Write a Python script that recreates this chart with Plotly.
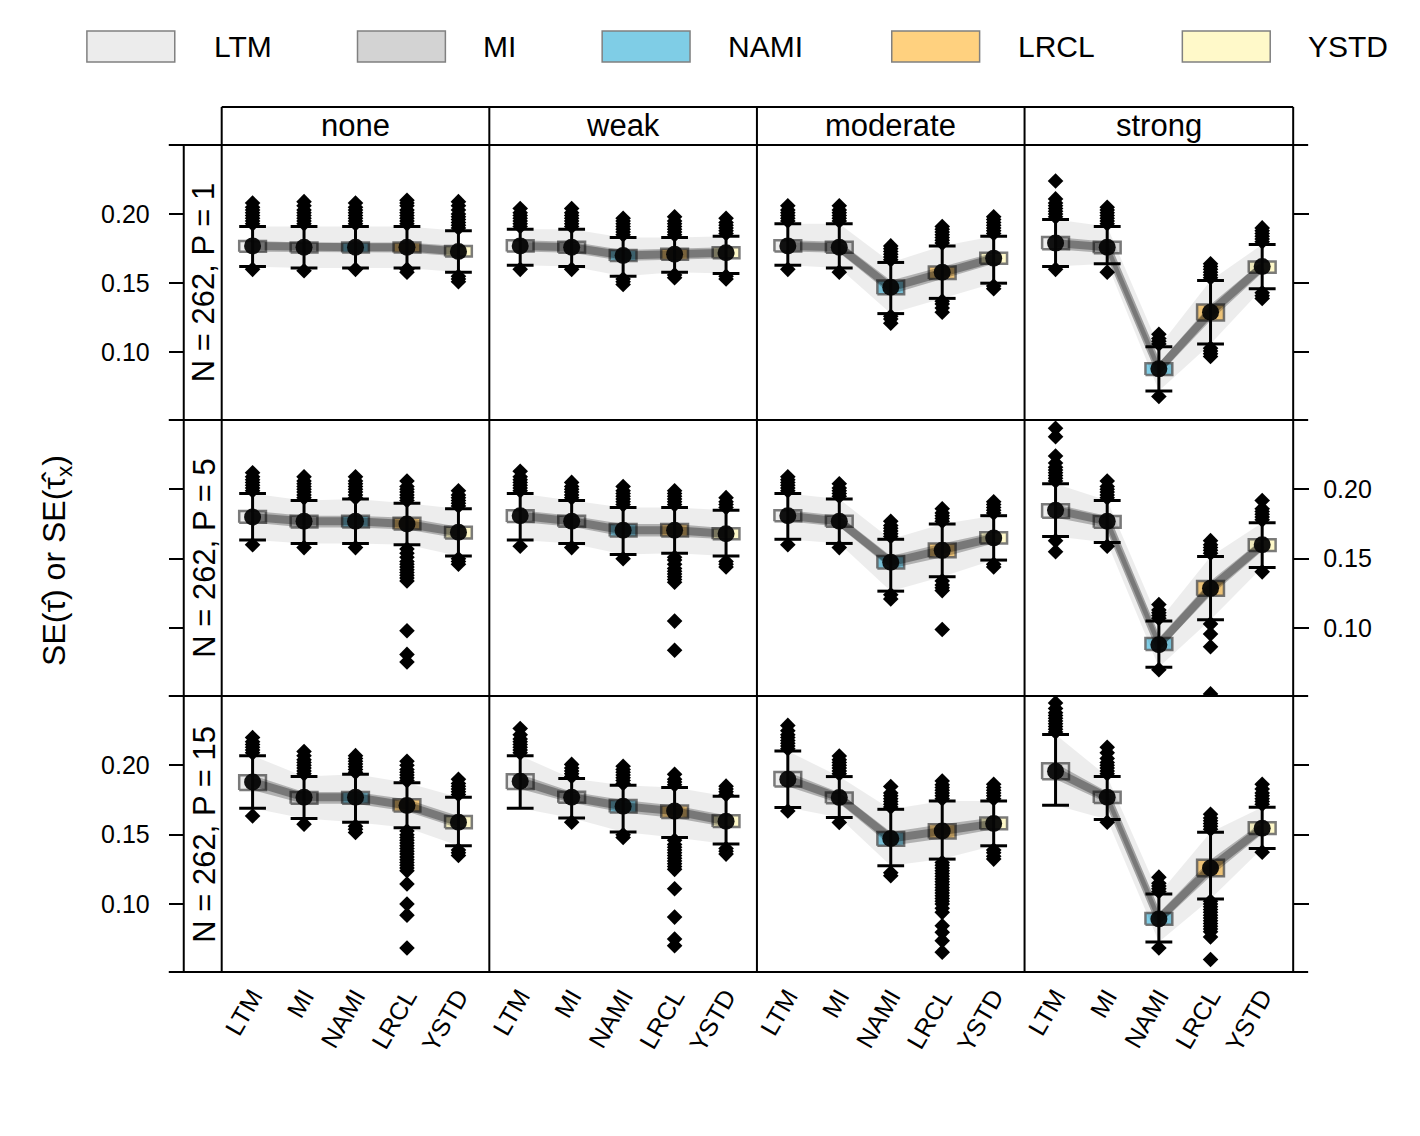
import plotly.graph_objects as go

# ---------------- data ----------------
METHODS = ["LTM", "MI", "NAMI", "LRCL", "YSTD"]
STRENGTHS = ["none", "weak", "moderate", "strong"]
ROW_LABELS = ["N = 262, P = 1", "N = 262, P = 5", "N = 262, P = 15"]
Y_TICKS = [0.10, 0.15, 0.20]
Y_TICK_TEXT = ["0.10", "0.15", "0.20"]
Y_TITLE = "SE(τ\u0302) or SE(τ\u0302<sub>x</sub>)"

# [row][col][method]
CENTER = [
    [[0.177, 0.176, 0.176, 0.176, 0.173], [0.177, 0.176, 0.170, 0.171, 0.172],
     [0.177, 0.176, 0.147, 0.158, 0.168], [0.179, 0.176, 0.088, 0.129, 0.162]],
    [[0.180, 0.177, 0.177, 0.175, 0.169], [0.181, 0.177, 0.1705, 0.1705, 0.168],
     [0.181, 0.177, 0.1475, 0.156, 0.165], [0.185, 0.177, 0.088, 0.1286, 0.160]],
    [[0.188, 0.177, 0.177, 0.171, 0.159], [0.1885, 0.177, 0.1705, 0.167, 0.1597],
     [0.190, 0.1768, 0.1473, 0.1527, 0.158], [0.1957, 0.177, 0.0892, 0.126, 0.1547]],
]
Q1 = [
    [[0.1727, 0.1722, 0.1722, 0.1722, 0.1693], [0.173, 0.172, 0.166, 0.167, 0.168],
     [0.173, 0.172, 0.142, 0.153, 0.164], [0.1746, 0.1717, 0.0835, 0.123, 0.1576]],
    [[0.176, 0.1725, 0.1725, 0.171, 0.1645], [0.1765, 0.173, 0.166, 0.166, 0.164],
     [0.177, 0.173, 0.143, 0.151, 0.161], [0.1796, 0.1724, 0.0842, 0.1232, 0.1556]],
    [[0.1822, 0.1724, 0.1724, 0.1667, 0.1547], [0.183, 0.173, 0.166, 0.162, 0.1555],
     [0.1847, 0.1727, 0.142, 0.1473, 0.154], [0.190, 0.1728, 0.085, 0.120, 0.1505]],
]
Q3 = [
    [[0.1806, 0.1794, 0.1794, 0.1794, 0.177], [0.181, 0.180, 0.174, 0.175, 0.176],
     [0.181, 0.180, 0.152, 0.162, 0.172], [0.1835, 0.1799, 0.0921, 0.1345, 0.1657]],
    [[0.1844, 0.181, 0.181, 0.1795, 0.173], [0.185, 0.181, 0.175, 0.175, 0.172],
     [0.185, 0.181, 0.152, 0.161, 0.169], [0.1892, 0.1808, 0.0928, 0.134, 0.164]],
    [[0.1928, 0.1808, 0.1808, 0.1755, 0.1635], [0.1935, 0.181, 0.175, 0.171, 0.164],
     [0.1952, 0.1804, 0.152, 0.1576, 0.1624], [0.2015, 0.181, 0.0935, 0.132, 0.159]],
]
W_LO = [
    [[0.162, 0.161, 0.161, 0.161, 0.158], [0.163, 0.162, 0.155, 0.158, 0.157],
     [0.163, 0.161, 0.128, 0.139, 0.150], [0.162, 0.164, 0.072, 0.106, 0.146]],
    [[0.1635, 0.161, 0.161, 0.160, 0.152], [0.1635, 0.161, 0.153, 0.154, 0.152],
     [0.164, 0.161, 0.1266, 0.137, 0.149], [0.166, 0.1617, 0.0717, 0.106, 0.1437]],
    [[0.169, 0.1616, 0.159, 0.155, 0.142], [0.169, 0.162, 0.152, 0.148, 0.1432],
     [0.1696, 0.1624, 0.1276, 0.1324, 0.142], [0.1712, 0.161, 0.0727, 0.1036, 0.140]],
]
W_HI = [
    [[0.191, 0.191, 0.191, 0.191, 0.188], [0.189, 0.189, 0.183, 0.183, 0.184],
     [0.193, 0.193, 0.165, 0.177, 0.184], [0.196, 0.191, 0.104, 0.152, 0.178]],
    [[0.197, 0.192, 0.193, 0.190, 0.186], [0.197, 0.192, 0.187, 0.187, 0.185],
     [0.197, 0.193, 0.164, 0.175, 0.181], [0.204, 0.192, 0.105, 0.1516, 0.176]],
    [[0.207, 0.192, 0.1935, 0.1875, 0.177], [0.207, 0.1906, 0.1856, 0.184, 0.1777],
     [0.2103, 0.1919, 0.1683, 0.1743, 0.1743], [0.2223, 0.192, 0.1072, 0.1518, 0.1698]],
]
OUT_HI = [
    [
        [[0.193, 0.195, 0.197, 0.199, 0.201, 0.203, 0.205, 0.208],
         [0.193, 0.195, 0.197, 0.199, 0.201, 0.203, 0.206, 0.209],
         [0.193, 0.195, 0.197, 0.199, 0.201, 0.203, 0.205, 0.208],
         [0.193, 0.195, 0.197, 0.199, 0.201, 0.203, 0.206, 0.208, 0.210],
         [0.190, 0.192, 0.194, 0.196, 0.198, 0.200, 0.203, 0.206, 0.209]],
        [[0.191, 0.193, 0.195, 0.197, 0.199, 0.201, 0.204],
         [0.191, 0.193, 0.195, 0.197, 0.199, 0.201, 0.204],
         [0.185, 0.187, 0.189, 0.191, 0.193, 0.195, 0.197],
         [0.185, 0.187, 0.189, 0.191, 0.193, 0.195, 0.198],
         [0.186, 0.188, 0.190, 0.192, 0.194, 0.197]],
        [[0.195, 0.197, 0.199, 0.201, 0.203, 0.206],
         [0.195, 0.197, 0.199, 0.201, 0.203, 0.206],
         [0.167, 0.169, 0.171, 0.173, 0.175, 0.177],
         [0.179, 0.181, 0.183, 0.185, 0.187, 0.189, 0.191],
         [0.186, 0.188, 0.190, 0.192, 0.194, 0.196, 0.198]],
        [[0.198, 0.200, 0.202, 0.204, 0.206, 0.208, 0.211, 0.224],
         [0.193, 0.195, 0.197, 0.199, 0.201, 0.203, 0.205],
         [0.106, 0.108, 0.110, 0.113],
         [0.154, 0.156, 0.158, 0.160, 0.162, 0.164],
         [0.180, 0.182, 0.184, 0.186, 0.188, 0.190]],
    ],
    [
        [[0.199, 0.201, 0.203, 0.205, 0.207, 0.209, 0.212],
         [0.194, 0.196, 0.198, 0.200, 0.202, 0.204, 0.206, 0.209],
         [0.194, 0.196, 0.198, 0.200, 0.202, 0.204, 0.206, 0.209],
         [0.192, 0.194, 0.196, 0.198, 0.200, 0.202, 0.206],
         [0.188, 0.190, 0.192, 0.194, 0.196, 0.199]],
        [[0.199, 0.201, 0.203, 0.205, 0.207, 0.209, 0.213],
         [0.194, 0.196, 0.198, 0.200, 0.202, 0.205],
         [0.189, 0.191, 0.193, 0.195, 0.197, 0.199, 0.202],
         [0.189, 0.191, 0.193, 0.195, 0.197, 0.199],
         [0.187, 0.189, 0.191, 0.194]],
        [[0.199, 0.201, 0.203, 0.205, 0.207, 0.209],
         [0.195, 0.197, 0.199, 0.201, 0.204],
         [0.166, 0.168, 0.170, 0.172, 0.174, 0.177],
         [0.177, 0.179, 0.181, 0.183, 0.186],
         [0.183, 0.185, 0.187, 0.189, 0.191]],
        [[0.206, 0.208, 0.210, 0.212, 0.214, 0.216, 0.219, 0.224, 0.238, 0.244],
         [0.194, 0.196, 0.198, 0.200, 0.202, 0.206],
         [0.107, 0.109, 0.111, 0.113, 0.117],
         [0.154, 0.156, 0.158, 0.160, 0.163],
         [0.178, 0.180, 0.182, 0.184, 0.186, 0.192]],
    ],
    [
        [[0.209, 0.211, 0.213, 0.215, 0.217, 0.220],
         [0.194, 0.196, 0.198, 0.200, 0.202, 0.204, 0.207, 0.210],
         [0.195, 0.197, 0.199, 0.201, 0.203, 0.205, 0.207],
         [0.189, 0.191, 0.193, 0.195, 0.197, 0.200, 0.203],
         [0.179, 0.181, 0.183, 0.185, 0.187, 0.190]],
        [[0.209, 0.211, 0.213, 0.215, 0.217, 0.219, 0.222, 0.2266],
         [0.192, 0.194, 0.196, 0.198, 0.2007],
         [0.187, 0.189, 0.191, 0.193, 0.195, 0.197, 0.1993],
         [0.186, 0.188, 0.190, 0.1935],
         [0.179, 0.181, 0.183, 0.185]],
        [[0.212, 0.214, 0.216, 0.218, 0.220, 0.222, 0.225, 0.2288],
         [0.194, 0.196, 0.198, 0.200, 0.202, 0.204, 0.2067],
         [0.170, 0.172, 0.174, 0.176, 0.178, 0.180, 0.1847],
         [0.176, 0.178, 0.180, 0.182, 0.184, 0.186, 0.1887],
         [0.176, 0.178, 0.180, 0.182, 0.184, 0.1863]],
        [[0.224, 0.226, 0.228, 0.230, 0.232, 0.234, 0.236, 0.238, 0.241, 0.245],
         [0.194, 0.196, 0.198, 0.200, 0.202, 0.205, 0.209, 0.213],
         [0.109, 0.111, 0.113, 0.115, 0.1194],
         [0.154, 0.156, 0.158, 0.160, 0.162, 0.1647],
         [0.172, 0.174, 0.176, 0.178, 0.180, 0.183, 0.1863]],
    ],
]
OUT_LO = [
    [
        [[0.160], [0.159], [0.160], [0.158, 0.160], [0.151, 0.153, 0.155]],
        [[0.160], [0.160], [0.149, 0.151, 0.153], [0.154, 0.156], [0.153, 0.155]],
        [[0.160], [0.158], [0.121, 0.124, 0.126], [0.129, 0.132, 0.135, 0.137], [0.146, 0.148]],
        [[0.160], [0.158], [0.068], [0.097, 0.099, 0.101, 0.103], [0.139, 0.141, 0.143]],
    ],
    [
        [[0.160], [0.158], [0.158],
         [0.157, 0.154, 0.151, 0.148, 0.146, 0.144, 0.142, 0.140, 0.138, 0.136, 0.134, 0.098, 0.081, 0.0755],
         [0.146, 0.148, 0.150]],
        [[0.159], [0.158], [0.150],
         [0.151, 0.149, 0.146, 0.143, 0.141, 0.139, 0.137, 0.135, 0.133, 0.105, 0.084],
         [0.144, 0.146, 0.148]],
        [[0.160], [0.158], [0.121, 0.124], [0.134, 0.131, 0.129, 0.127, 0.099], [0.144, 0.146]],
        [[0.163, 0.155], [0.159], [0.070], [0.103, 0.0957, 0.0865, 0.0525], [0.1405]],
    ],
    [
        [[0.1635], [0.1576], [0.1516, 0.154, 0.156],
         [0.1527, 0.150, 0.148, 0.146, 0.144, 0.142, 0.140, 0.138, 0.136, 0.134, 0.132, 0.130,
          0.128, 0.126, 0.124, 0.1144, 0.100, 0.092, 0.0683],
         [0.135, 0.137, 0.139]],
        [[], [0.159], [0.148, 0.150],
         [0.146, 0.143, 0.141, 0.139, 0.137, 0.135, 0.133, 0.131, 0.129, 0.127, 0.125,
          0.111, 0.0906, 0.0748, 0.070],
         [0.136, 0.138, 0.140]],
        [[0.1671], [0.1588], [0.1204, 0.1225],
         [0.130, 0.128, 0.126, 0.124, 0.122, 0.120, 0.118, 0.116, 0.114, 0.112, 0.110, 0.108,
          0.106, 0.104, 0.102, 0.100, 0.097, 0.094, 0.0844, 0.0796, 0.0736, 0.0653],
         [0.1324, 0.1345, 0.137, 0.139]],
        [[], [0.159], [0.0683],
         [0.102, 0.100, 0.098, 0.096, 0.094, 0.092, 0.090, 0.088, 0.086, 0.084, 0.082, 0.080,
          0.0763, 0.060],
         [0.1374]],
    ],
]

# ---------------- styles / layout constants ----------------
FILL_COLORS = ["#ececec", "#d3d3d3", "#7fcde6", "#ffd17f", "#fff9c9"]
PAGE_OFF = 8                 # browser body margin
W, H = 1420 - PAGE_OFF, 1136 - PAGE_OFF
COL_X = [220, 488, 756, 1024, 1293]
ROW_Y = [145, 420, 696, 972]
STRIP_TOP = 107
LSTRIP_X = 182
TICK_L = 15
BOX_HALF = 0.26
Y_RANGE = [0.051, 0.250]
X_RANGE = [0.4, 5.6]
FONT = "Liberation Sans, Arial, Helvetica, sans-serif"
LEG_BOX_X = [85, 356, 601, 891, 1182]
LEG_TEXT_X = [210, 480, 725, 1015, 1306]


def px(x):
    return (x - PAGE_OFF) / W


def py(y):
    return 1 - (y - PAGE_OFF) / H


fig = go.Figure()
layout = dict(
    width=W, height=H, margin=dict(l=0, r=0, t=0, b=0),
    paper_bgcolor="white", plot_bgcolor="rgba(0,0,0,0)", showlegend=False,
    font=dict(family=FONT, color="black", size=25),
)

xs = [1, 2, 3, 4, 5]
for r in range(3):
    for c in range(4):
        k = r * 4 + c + 1
        xa = "x" if k == 1 else f"x{k}"
        ya = "y" if k == 1 else f"y{k}"
        cen, q1, q3 = CENTER[r][c], Q1[r][c], Q3[r][c]
        wlo, whi = W_LO[r][c], W_HI[r][c]
        common = dict(xaxis=xa, yaxis=ya, hoverinfo="skip", showlegend=False)

        # boxes (IQR)
        for i in range(5):
            x0, x1 = xs[i] - BOX_HALF, xs[i] + BOX_HALF
            fig.add_trace(go.Scatter(
                x=[x0, x1, x1, x0, x0], y=[q1[i], q1[i], q3[i], q3[i], q1[i]],
                mode="lines", fill="toself", fillcolor=FILL_COLORS[i],
                line=dict(color="rgba(100,100,100,0.85)", width=2.5), **common))

        # replicate-line bands
        fig.add_trace(go.Scatter(
            x=xs + xs[::-1], y=whi + wlo[::-1], mode="lines", fill="toself",
            fillcolor="rgba(0,0,0,0.07)", line=dict(width=0), **common))
        fig.add_trace(go.Scatter(
            x=xs + xs[::-1], y=q3 + q1[::-1], mode="lines", fill="toself",
            fillcolor="rgba(0,0,0,0.25)", line=dict(width=0), **common))
        fig.add_trace(go.Scatter(
            x=xs, y=cen, mode="lines",
            line=dict(color="rgba(0,0,0,0.32)", width=8), **common))

        # whiskers and caps
        wx, wy = [], []
        for i in range(5):
            wx += [xs[i], xs[i], None]
            wy += [wlo[i], whi[i], None]
            wx += [xs[i] - BOX_HALF, xs[i] + BOX_HALF, None]
            wy += [wlo[i], wlo[i], None]
            wx += [xs[i] - BOX_HALF, xs[i] + BOX_HALF, None]
            wy += [whi[i], whi[i], None]
        fig.add_trace(go.Scatter(x=wx, y=wy, mode="lines",
                                 line=dict(color="black", width=3), **common))

        # outliers
        ox, oy = [], []
        for i in range(5):
            for v in OUT_HI[r][c][i] + OUT_LO[r][c][i]:
                ox.append(xs[i])
                oy.append(v)
        fig.add_trace(go.Scatter(x=ox, y=oy, mode="markers",
                                 marker=dict(symbol="diamond", size=12, color="black",
                                             line=dict(width=0)), **common))

        # central points
        fig.add_trace(go.Scatter(x=xs, y=cen, mode="markers",
                                 marker=dict(size=17, color="rgba(5,5,5,0.95)",
                                             line=dict(width=0)), **common))

        xname = "xaxis" if k == 1 else f"xaxis{k}"
        yname = "yaxis" if k == 1 else f"yaxis{k}"
        layout[xname] = dict(
            domain=[px(COL_X[c]), px(COL_X[c + 1])], range=X_RANGE, anchor=ya,
            showgrid=False, zeroline=False, showline=False, ticks="",
            tickmode="array", tickvals=xs, ticktext=METHODS,
            showticklabels=(r == 2), tickangle=-60, tickfont=dict(size=25),
            ticklabelstandoff=4,
        )
        yax = dict(
            domain=[py(ROW_Y[r + 1]), py(ROW_Y[r])], range=Y_RANGE, anchor=xa,
            showgrid=False, zeroline=False, showline=False,
            tickmode="array", tickvals=Y_TICKS, ticktext=Y_TICK_TEXT,
            tickfont=dict(size=25),
        )
        if c == 0:
            yax.update(anchor="free", position=px(LSTRIP_X), side="left",
                       ticks="outside", ticklen=TICK_L, tickwidth=1.8, tickcolor="black",
                       showticklabels=(r != 1), ticklabelstandoff=14)
        elif c == 3:
            yax.update(anchor="free", position=px(COL_X[4]), side="right",
                       ticks="outside", ticklen=TICK_L, tickwidth=1.8, tickcolor="black",
                       showticklabels=(r == 1), ticklabelstandoff=9)
        else:
            yax.update(ticks="", showticklabels=False)
        layout[yname] = yax

# ---------------- frame shapes ----------------
shapes = []
LW = 2


def line(x0, y0, x1, y1, w=LW):
    shapes.append(dict(type="line", xref="paper", yref="paper",
                       x0=px(x0), y0=py(y0), x1=px(x1), y1=py(y1),
                       line=dict(color="black", width=w)))


# top strip and panel grid
line(COL_X[0], STRIP_TOP, COL_X[4], STRIP_TOP)
for x in COL_X:
    line(x, STRIP_TOP, x, ROW_Y[3])
for y in ROW_Y:
    line(LSTRIP_X - TICK_L, y, COL_X[4] + TICK_L, y)
line(LSTRIP_X, ROW_Y[0], LSTRIP_X, ROW_Y[3])

# legend
for i, m in enumerate(METHODS):
    shapes.append(dict(type="rect", xref="paper", yref="paper",
                       x0=px(LEG_BOX_X[i]), x1=px(LEG_BOX_X[i] + 88),
                       y0=py(62), y1=py(31), fillcolor=FILL_COLORS[i],
                       line=dict(color="#808080", width=1.5)))

annotations = []
for i, m in enumerate(METHODS):
    annotations.append(dict(text=m, x=px(LEG_TEXT_X[i]), y=py(47), xref="paper", yref="paper",
                            xanchor="left", yanchor="middle", showarrow=False,
                            font=dict(size=30)))
for c, s in enumerate(STRENGTHS):
    annotations.append(dict(text=s, x=px((COL_X[c] + COL_X[c + 1]) / 2), y=py((STRIP_TOP + ROW_Y[0]) / 2),
                            xref="paper", yref="paper", xanchor="center", yanchor="middle",
                            showarrow=False, font=dict(size=31)))
for r, s in enumerate(ROW_LABELS):
    annotations.append(dict(text=s, x=px((LSTRIP_X + COL_X[0]) / 2 + 1), y=py((ROW_Y[r] + ROW_Y[r + 1]) / 2),
                            xref="paper", yref="paper", xanchor="center", yanchor="middle",
                            textangle=-90, showarrow=False, font=dict(size=31)))
annotations.append(dict(text=Y_TITLE, x=px(55), y=py(560), xref="paper", yref="paper",
                        xanchor="center", yanchor="middle", textangle=-90, showarrow=False,
                        font=dict(size=32)))

layout["shapes"] = shapes
layout["annotations"] = annotations
fig.update_layout(**layout)
fig.write_html("out.html")
